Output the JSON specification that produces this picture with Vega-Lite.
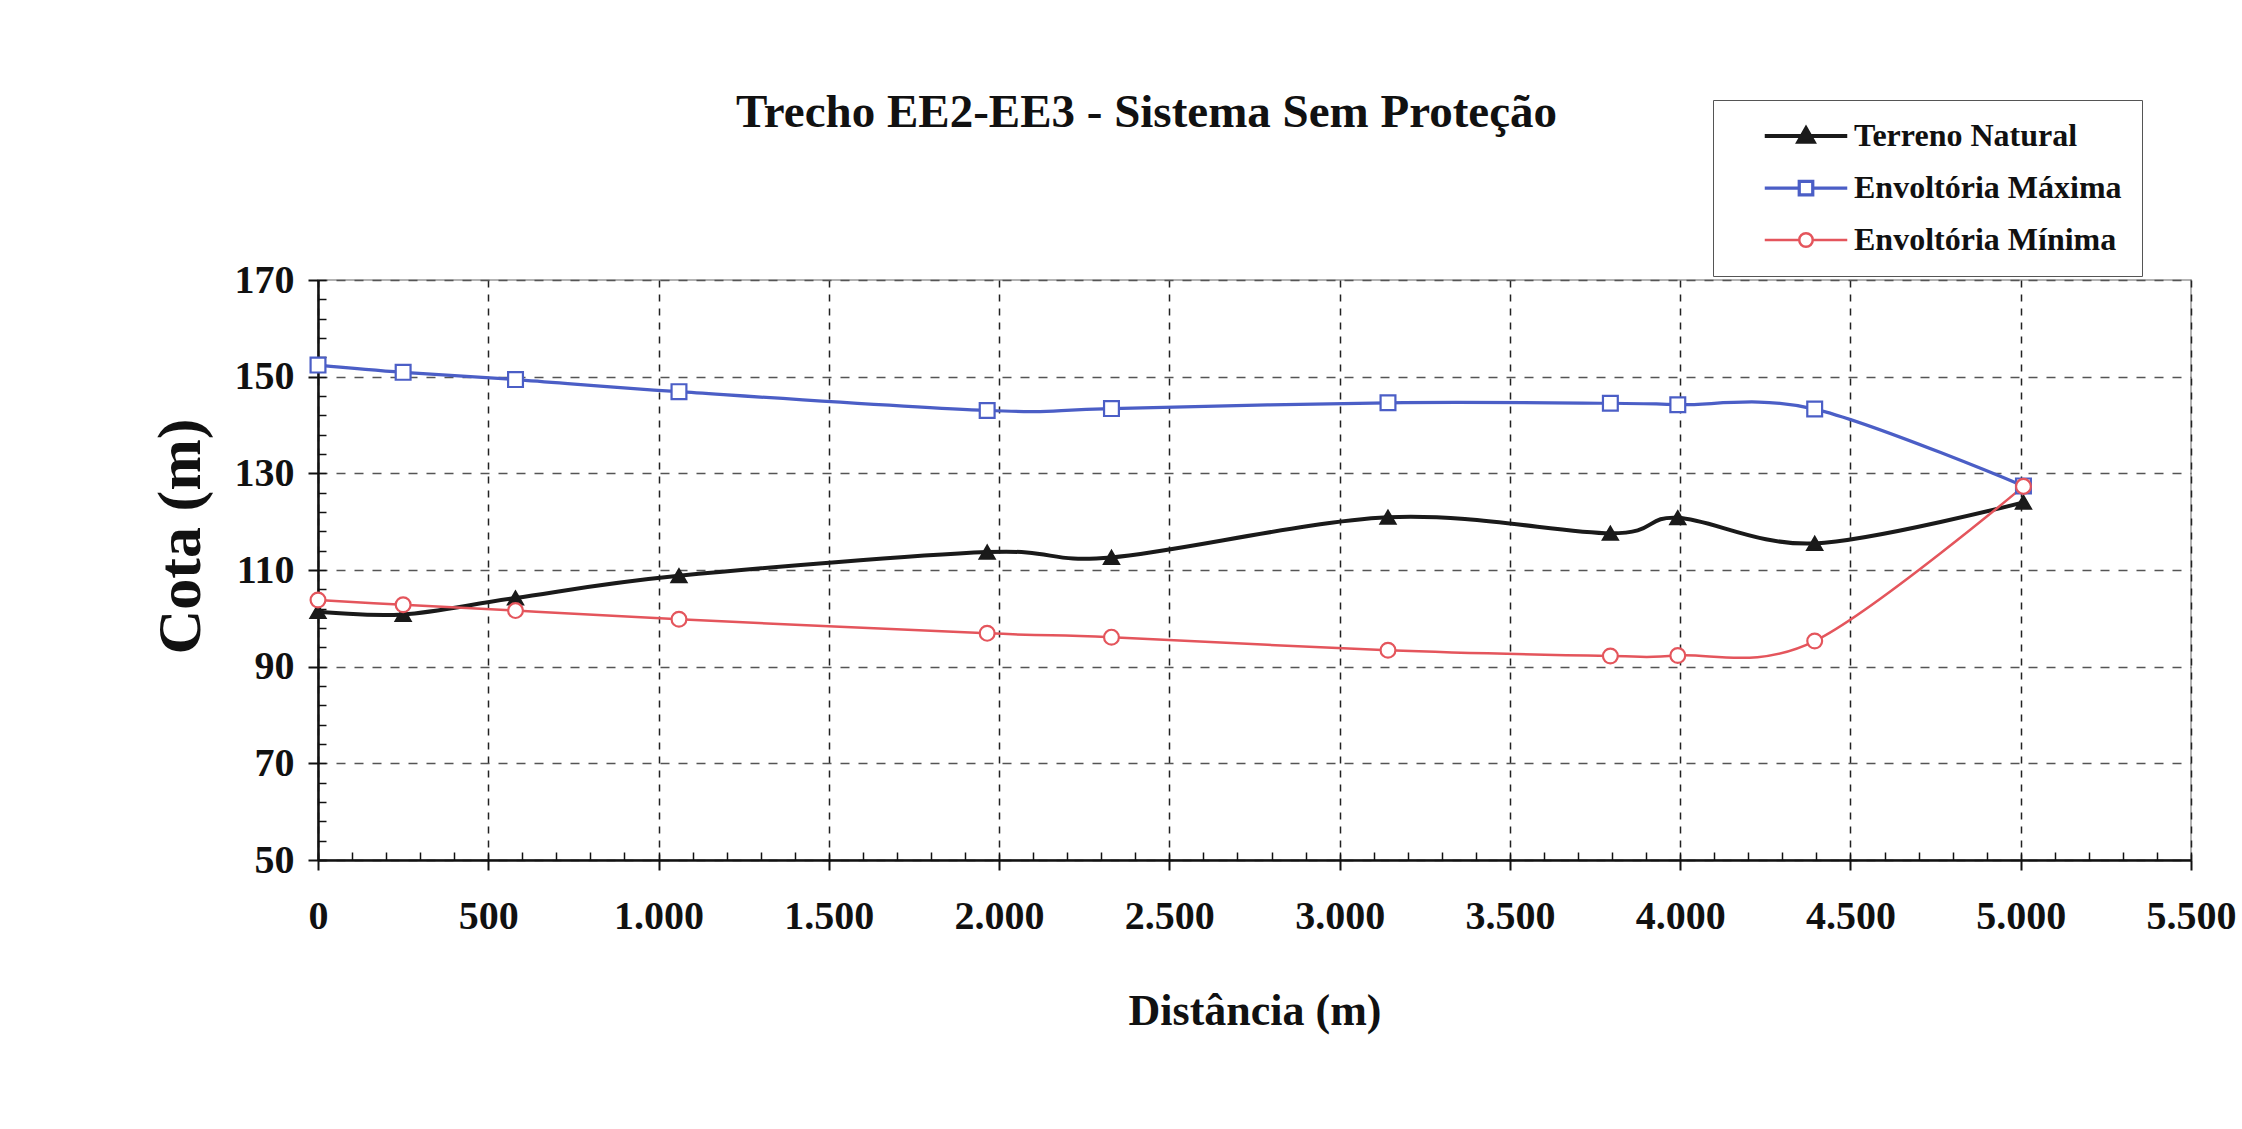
{
  "$schema": "https://vega.github.io/schema/vega-lite/v6.json",
  "width": 1873,
  "height": 580,
  "autosize": "none",
  "padding": {"left": 318, "top": 280, "right": 51, "bottom": 269},
  "background": "white",
  "title": {
    "text": "Trecho EE2-EE3 - Sistema Sem Proteção",
    "font": "Liberation Serif",
    "fontSize": 47,
    "fontWeight": "bold",
    "color": "#111111",
    "anchor": "middle",
    "dx": -108,
    "offset": -37
  },
  "config": {
    "view": {"stroke": "#9a9a9a", "strokeWidth": 1.5},
    "axis": {
      "labelFont": "Liberation Serif",
      "labelFontWeight": "bold",
      "labelFontSize": 40,
      "labelColor": "#111111",
      "titleFont": "Liberation Serif",
      "titleFontWeight": "bold",
      "titleColor": "#111111",
      "domainColor": "#111111",
      "domainWidth": 2.5,
      "tickColor": "#111111",
      "tickWidth": 2,
      "gridColor": "#333333",
      "gridWidth": 1.5,
      "gridDash": [9, 9]
    }
  },
  "data": {
    "values": [
      {"dist": 0, "cota": 101.4, "serie": "Terreno Natural"},
      {"dist": 250, "cota": 100.8, "serie": "Terreno Natural"},
      {"dist": 580, "cota": 104.2, "serie": "Terreno Natural"},
      {"dist": 1060, "cota": 108.8, "serie": "Terreno Natural"},
      {"dist": 1965, "cota": 113.7, "serie": "Terreno Natural"},
      {"dist": 2330, "cota": 112.6, "serie": "Terreno Natural"},
      {"dist": 3142, "cota": 120.9, "serie": "Terreno Natural"},
      {"dist": 3795, "cota": 117.6, "serie": "Terreno Natural"},
      {"dist": 3993, "cota": 120.8, "serie": "Terreno Natural"},
      {"dist": 4395, "cota": 115.5, "serie": "Terreno Natural"},
      {"dist": 5008, "cota": 124.0, "serie": "Terreno Natural"},
      {"dist": 0, "cota": 152.4, "serie": "Envoltória Máxima"},
      {"dist": 250, "cota": 150.9, "serie": "Envoltória Máxima"},
      {"dist": 580, "cota": 149.4, "serie": "Envoltória Máxima"},
      {"dist": 1060, "cota": 146.9, "serie": "Envoltória Máxima"},
      {"dist": 1965, "cota": 143.0, "serie": "Envoltória Máxima"},
      {"dist": 2330, "cota": 143.4, "serie": "Envoltória Máxima"},
      {"dist": 3142, "cota": 144.6, "serie": "Envoltória Máxima"},
      {"dist": 3795, "cota": 144.5, "serie": "Envoltória Máxima"},
      {"dist": 3993, "cota": 144.2, "serie": "Envoltória Máxima"},
      {"dist": 4395, "cota": 143.3, "serie": "Envoltória Máxima"},
      {"dist": 5008, "cota": 127.4, "serie": "Envoltória Máxima"},
      {"dist": 0, "cota": 103.8, "serie": "Envoltória Mínima"},
      {"dist": 250, "cota": 102.8, "serie": "Envoltória Mínima"},
      {"dist": 580, "cota": 101.6, "serie": "Envoltória Mínima"},
      {"dist": 1060, "cota": 99.8, "serie": "Envoltória Mínima"},
      {"dist": 1965, "cota": 96.9, "serie": "Envoltória Mínima"},
      {"dist": 2330, "cota": 96.1, "serie": "Envoltória Mínima"},
      {"dist": 3142, "cota": 93.4, "serie": "Envoltória Mínima"},
      {"dist": 3795, "cota": 92.2, "serie": "Envoltória Mínima"},
      {"dist": 3993, "cota": 92.3, "serie": "Envoltória Mínima"},
      {"dist": 4395, "cota": 95.3, "serie": "Envoltória Mínima"},
      {"dist": 5008, "cota": 127.3, "serie": "Envoltória Mínima"}
    ]
  },
  "resolve": {"axis": {"x": "independent", "y": "independent"}},
  "layer": [
    {
      "mark": {"type": "line", "interpolate": "cardinal"},
      "encoding": {
        "x": {
          "field": "dist",
          "type": "quantitative",
          "scale": {"domain": [0, 5500], "nice": false, "zero": false},
          "axis": {
            "orient": "bottom",
            "title": "Distância (m)",
            "titleFontSize": 44,
            "titlePadding": 53,
            "values": [0, 500, 1000, 1500, 2000, 2500, 3000, 3500, 4000, 4500, 5000, 5500],
            "labelExpr": "replace(format(datum.value, ',.0f'), ',', '.')",
            "tickSize": 10,
            "labelPadding": 26,
            "labelFlush": false,
            "labelOverlap": false,
            "gridDash": [7, 7],
            "gridColor": "#222222"
          }
        },
        "y": {
          "field": "cota",
          "type": "quantitative",
          "scale": {"domain": [50, 170], "nice": false, "zero": false},
          "axis": {
            "orient": "left",
            "title": "Cota (m)",
            "titleFontSize": 62,
            "titlePadding": 22,
            "titleY": 256,
            "values": [50, 70, 90, 110, 130, 150, 170],
            "tickSize": 10,
            "labelPadding": 14,
            "labelFlush": false,
            "labelOverlap": false,
            "gridColor": "#555555"
          }
        },
        "color": {
          "field": "serie",
          "type": "nominal",
          "scale": {
            "domain": ["Terreno Natural", "Envoltória Máxima", "Envoltória Mínima"],
            "range": ["#1a1a1a", "#4b5ec6", "#e4555c"]
          },
          "legend": {
            "title": null,
            "orient": "none",
            "legendX": 1395,
            "legendY": -180,
            "direction": "vertical",
            "padding": 20,
            "strokeColor": "#555555",
            "fillColor": "white",
            "labelFont": "Liberation Serif",
            "labelFontWeight": "bold",
            "labelFontSize": 32,
            "labelColor": "#111111",
            "symbolSize": 225,
            "symbolOffset": 57,
            "labelOffset": 32,
            "rowPadding": 20,
            "labelLimit": 400,
            "encode": {
              "symbols": {
                "update": {
                  "shape": {"signal": "datum.value === 'Terreno Natural' ? 'M-5.5,0H5.5M0,-1L1,0.75H-1Z' : datum.value === 'Envoltória Máxima' ? 'M-5.5,0H-0.9M0.9,0H5.5M-0.9,-0.9H0.9V0.9H-0.9Z' : 'M-5.5,0H-0.9M0.9,0H5.5M-0.9,0A0.9,0.9 0 1,0 0.9,0A0.9,0.9 0 1,0 -0.9,0Z'"},
                  "fill": {"signal": "datum.value === 'Terreno Natural' ? '#1a1a1a' : 'white'"},
                  "fillOpacity": {"value": 1},
                  "opacity": {"value": 1},
                  "strokeWidth": {"value": 2.5}
                }
              }
            }
          }
        },
        "strokeWidth": {
          "field": "serie",
          "type": "nominal",
          "scale": {
            "domain": ["Terreno Natural", "Envoltória Máxima", "Envoltória Mínima"],
            "range": [4, 2.5, 3.5]
          },
          "legend": null
        }
      }
    },
    {
      "mark": {"type": "point", "filled": false, "size": 220, "strokeWidth": 2.2, "opacity": 1},
      "encoding": {
        "x": {
          "field": "dist",
          "type": "quantitative",
          "axis": {
            "orient": "bottom",
            "title": null,
            "labels": false,
            "domain": false,
            "grid": false,
            "tickSize": -8,
            "tickWidth": 1.5,
            "values": [0,100,200,300,400,500,600,700,800,900,1000,1100,1200,1300,1400,1500,1600,1700,1800,1900,2000,2100,2200,2300,2400,2500,2600,2700,2800,2900,3000,3100,3200,3300,3400,3500,3600,3700,3800,3900,4000,4100,4200,4300,4400,4500,4600,4700,4800,4900,5000,5100,5200,5300,5400,5500]
          }
        },
        "y": {
          "field": "cota",
          "type": "quantitative",
          "axis": {
            "orient": "left",
            "title": null,
            "labels": false,
            "domain": false,
            "grid": false,
            "tickSize": -8,
            "tickWidth": 1.5,
            "values": [50,54,58,62,66,70,74,78,82,86,90,94,98,102,106,110,114,118,122,126,130,134,138,142,146,150,154,158,162,166,170]
          }
        },
        "color": {"field": "serie", "type": "nominal"},
        "shape": {
          "condition": [
            {"test": "datum.serie === 'Terreno Natural'", "value": "triangle-up"},
            {"test": "datum.serie === 'Envoltória Máxima'", "value": "square"}
          ],
          "value": "circle"
        },
        "fill": {
          "condition": {"test": "datum.serie === 'Terreno Natural'", "value": "#1a1a1a"},
          "value": "white"
        }
      }
    }
  ]
}
